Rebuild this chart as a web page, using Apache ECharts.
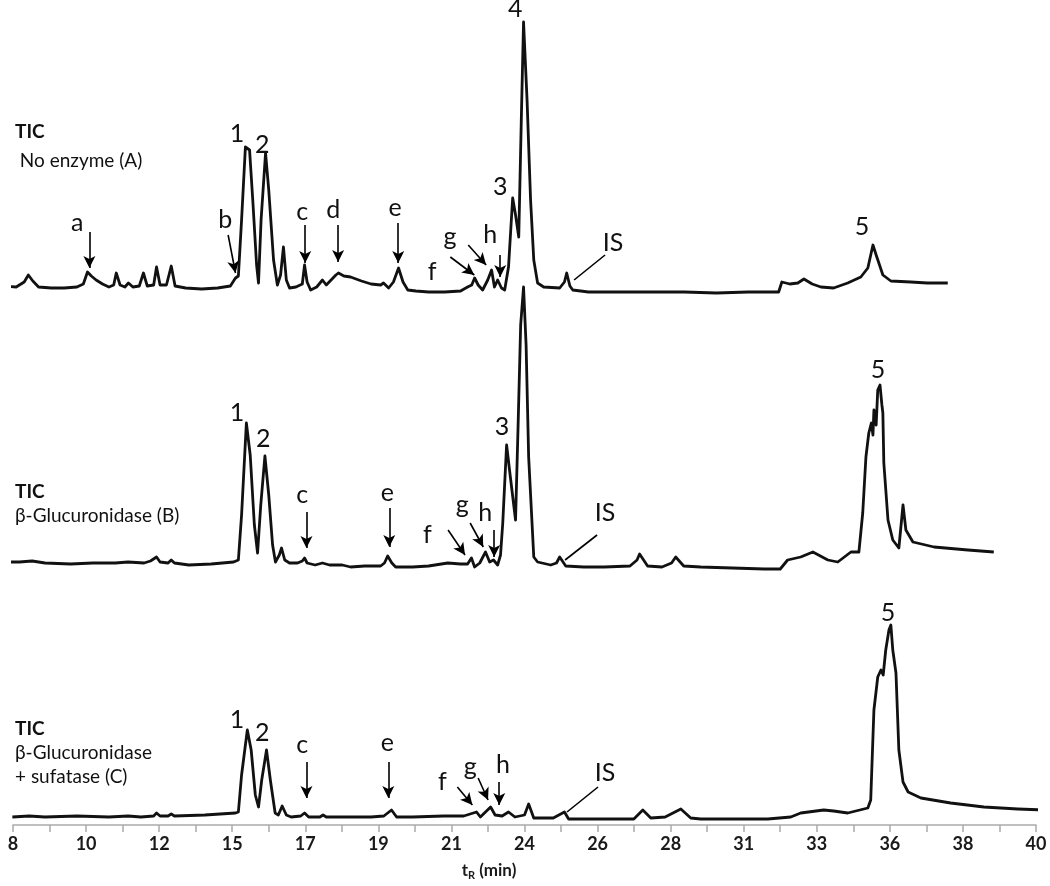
<!DOCTYPE html>
<html>
<head>
<meta charset="utf-8">
<script src="https://cdn.jsdelivr.net/npm/echarts@6/dist/echarts.min.js"></script>
<style>
	html, body { margin: 0; padding: 0; background: #fff; }
	#chart { width: 1050px; height: 886px; }
</style>
</head>
<body>
<div id="chart"></div>
<script>
// x tick labels as printed under the axis (evenly spaced from 8 to 40 min)
var xTickLabels = ['8', '10', '12', '15', '17', '19', '21', '24', '26', '28', '31', '33', '36', '38', '40'];

// TIC traces, [tR (min), relative abundance]
var traceA = [
	[7.67, 14], [8.1, 13], [8.35, 18], [8.48, 25], [8.62, 19], [8.8, 13], [9.2, 12], [9.6, 12], [10.0, 13], [10.2, 16],
	[10.33, 28], [10.45, 24], [10.6, 20], [10.8, 16], [11.0, 13], [11.15, 15], [11.23, 27], [11.35, 15], [11.5, 13], [11.61, 17],
	[11.75, 13], [11.95, 14], [12.08, 27], [12.2, 14], [12.4, 15], [12.49, 33], [12.6, 15], [12.8, 15], [12.95, 34], [13.07, 14],
	[13.4, 12], [13.9, 11], [14.4, 12], [14.8, 14], [14.96, 22], [15.05, 24], [15.15, 80], [15.27, 153], [15.4, 150], [15.5, 100],
	[15.62, 35], [15.68, 17], [15.76, 80], [15.9, 147], [16.0, 110], [16.15, 40], [16.27, 15], [16.37, 25], [16.46, 53], [16.55, 20],
	[16.65, 12], [16.85, 13], [17.05, 16], [17.12, 35], [17.2, 18], [17.31, 10], [17.5, 13], [17.68, 20], [17.8, 15], [17.95, 20],
	[18.1, 25], [18.18, 27], [18.35, 24], [18.56, 23], [18.9, 19], [19.2, 16], [19.5, 15], [19.59, 17], [19.75, 12], [19.9, 18],
	[20.06, 32], [20.2, 18], [20.35, 10], [20.6, 9], [21.0, 8], [21.5, 8], [22.0, 9], [22.22, 13], [22.35, 15], [22.44, 22],
	[22.55, 15], [22.69, 10], [22.85, 20], [22.97, 30], [23.06, 13], [23.16, 20], [23.28, 12], [23.38, 10], [23.5, 33], [23.63, 102],
	[23.72, 85], [23.82, 63], [23.9, 180], [23.97, 278], [24.08, 200], [24.19, 100], [24.29, 40], [24.41, 17], [24.6, 13], [25.1, 12],
	[25.25, 18], [25.32, 27], [25.42, 14], [25.51, 10], [26.0, 8], [27.0, 8], [28.0, 8], [29.0, 8], [30.0, 7], [31.0, 8],
	[31.95, 8], [32.05, 18], [32.3, 16], [32.55, 17], [32.74, 21], [33.0, 16], [33.27, 13], [33.67, 12], [34.11, 17], [34.52, 23],
	[34.74, 32], [34.9, 55], [35.0, 45], [35.21, 25], [35.46, 19], [36.08, 18], [36.6, 17], [37.24, 17]
];
var traceB = [
	[7.67, 13], [8.2, 13], [8.6, 14], [9.0, 12], [9.8, 11], [10.5, 12], [11.2, 12], [11.6, 13], [12.1, 12], [12.3, 14],
	[12.49, 18], [12.6, 13], [12.85, 12], [12.95, 15], [13.05, 12], [13.5, 10], [14.2, 11], [14.9, 13], [15.05, 15], [15.15, 60],
	[15.3, 152], [15.42, 120], [15.55, 50], [15.65, 22], [15.75, 70], [15.88, 119], [16.0, 80], [16.12, 30], [16.21, 13], [16.33, 20],
	[16.4, 27], [16.5, 15], [16.65, 12], [16.9, 12], [17.05, 14], [17.12, 17], [17.2, 12], [17.45, 10], [17.68, 12], [17.9, 10],
	[18.3, 10], [18.56, 8], [19.0, 9], [19.5, 9], [19.62, 12], [19.72, 19], [19.85, 12], [19.97, 8], [20.5, 8], [21.0, 9],
	[21.6, 12], [22.0, 11], [22.22, 11], [22.34, 17], [22.44, 8], [22.6, 12], [22.78, 23], [22.91, 13], [23.03, 15], [23.16, 10],
	[23.25, 20], [23.32, 52], [23.44, 130], [23.55, 100], [23.72, 55], [23.8, 150], [23.88, 250], [23.97, 288], [24.05, 230], [24.13, 118],
	[24.29, 18], [24.41, 13], [24.82, 10], [25.0, 12], [25.1, 18], [25.29, 9], [25.85, 8], [26.5, 8], [27.3, 9], [27.52, 15],
	[27.6, 21], [27.85, 9], [28.3, 8], [28.6, 12], [28.73, 18], [28.98, 9], [29.51, 8], [30.5, 7], [31.5, 6], [32.0, 6],
	[32.23, 15], [32.64, 18], [33.02, 23], [33.49, 15], [33.8, 13], [34.21, 23], [34.46, 23], [34.58, 62], [34.68, 118], [34.77, 142],
	[34.85, 152], [34.9, 140], [34.93, 165], [35.0, 150], [35.05, 185], [35.12, 190], [35.18, 170], [35.21, 162], [35.24, 112], [35.37, 55],
	[35.52, 35], [35.71, 27], [35.84, 70], [35.93, 45], [36.15, 33], [36.81, 28], [37.87, 25], [38.68, 23]
];
var traceC = [
	[7.98, 8], [8.5, 9], [9.0, 8], [10.0, 9], [11.0, 8], [11.6, 9], [12.0, 8], [12.4, 9], [12.49, 12], [12.6, 9],
	[12.85, 9], [12.95, 11], [13.05, 9], [14.0, 10], [14.96, 12], [15.05, 13], [15.15, 50], [15.33, 95], [15.45, 75], [15.58, 30],
	[15.68, 18], [15.78, 45], [15.93, 75], [16.05, 45], [16.2, 12], [16.3, 10], [16.42, 19], [16.55, 10], [16.7, 8], [17.0, 9],
	[17.12, 12], [17.25, 8], [17.6, 8], [17.7, 10], [17.8, 8], [18.56, 8], [19.2, 8], [19.6, 9], [19.84, 15], [20.0, 8],
	[20.5, 8], [21.47, 9], [22.1, 9], [22.5, 13], [22.62, 8], [22.94, 18], [23.08, 10], [23.3, 9], [23.5, 13], [23.7, 8],
	[24.0, 10], [24.13, 21], [24.29, 7], [24.9, 7], [25.25, 13], [25.38, 6], [27.42, 6], [27.7, 15], [27.95, 7], [28.4, 8],
	[28.89, 16], [29.2, 7], [29.51, 6], [31.61, 6], [32.33, 8], [32.64, 12], [33.36, 15], [33.67, 14], [34.11, 12], [34.74, 17],
	[34.83, 25], [34.93, 115], [35.05, 148], [35.15, 155], [35.22, 150], [35.3, 175], [35.4, 195], [35.46, 200], [35.52, 175], [35.62, 152],
	[35.71, 75], [35.84, 43], [36.0, 33], [36.4, 27], [37.33, 22], [38.37, 18], [39.43, 16], [40.25, 15]
];

// peak / metabolite labels: [text, tR, abundance]
var labelsA = [['1', 15.01, 166], ['2', 15.80, 155], ['3', 23.24, 113], ['4', 23.71, 291], ['5', 34.56, 73],
	['a', 10.01, 77], ['b', 14.64, 80], ['c', 17.05, 88], ['d', 18.02, 90], ['e', 19.95, 92],
	['f', 21.11, 28], ['g', 21.67, 63], ['h', 22.93, 65], ['IS', 26.77, 57]];
var labelsB = [['1', 15.01, 162], ['2', 15.83, 136], ['3', 23.30, 148], ['5', 35.06, 205],
	['c', 17.05, 80], ['e', 19.71, 82], ['f', 20.96, 40], ['g', 22.05, 70], ['h', 22.77, 62], ['IS', 26.52, 62]];
var labelsC = [['1', 15.01, 105], ['2', 15.80, 92], ['5', 35.37, 212],
	['c', 17.05, 80], ['e', 19.71, 82], ['f', 21.43, 43], ['g', 22.30, 58], ['h', 23.33, 60], ['IS', 26.52, 52]];

// arrows: [fromT, fromI, toT, toI]
var arrowsA = [[10.39, 68, 10.39, 32], [14.73, 65, 14.96, 27], [17.14, 75, 17.14, 37], [18.17, 75, 18.17, 38],
	[20.05, 77, 20.05, 37], [21.68, 43, 22.43, 25], [22.24, 55, 22.80, 35], [23.24, 45, 23.24, 23]];
var arrowsB = [[17.18, 63, 17.18, 27], [19.77, 67, 19.77, 28], [21.61, 45, 22.14, 20], [22.30, 52, 22.71, 28], [23.05, 45, 23.05, 18]];
var arrowsC = [[17.18, 63, 17.18, 27], [19.74, 63, 19.74, 27], [21.90, 38, 22.37, 20], [22.55, 47, 22.86, 25], [23.21, 43, 23.21, 20]];
// plain leader lines for IS
var isLineA = [26.52, 45, 25.55, 20];
var isLineB = [26.27, 40, 25.27, 15];
var isLineC = [26.30, 38, 25.33, 13];

var sampleNames = [['TIC', ' No enzyme (A)'], ['TIC', 'β-Glucuronidase (B)'], ['TIC', 'β-Glucuronidase', '+ sufatase (C)']];

var chart = echarts.init(document.getElementById('chart'));
var FONT = 'Lato, "Open Sans", sans-serif';

function makeSeries(idx, data, labels, arrows, isLine) {
	var lines = arrows.map(function (a) {
		return [{ coord: [a[0], a[1]], symbol: 'none' }, { coord: [a[2], a[3]], symbol: 'arrow' }];
	});
	lines.push([{ coord: [isLine[0], isLine[1]], symbol: 'none' }, { coord: [isLine[2], isLine[3]], symbol: 'none' }]);
	return {
		type: 'line',
		xAxisIndex: idx,
		yAxisIndex: idx,
		data: data,
		showSymbol: false,
		symbol: 'none',
		clip: false,
		animation: false,
		lineStyle: { color: '#111', width: 2.8, join: 'round' },
		markPoint: {
			silent: true,
			animation: false,
			symbol: 'circle',
			symbolSize: 1,
			itemStyle: { color: 'rgba(0,0,0,0)' },
			label: {
				show: true,
				position: 'inside',
				formatter: function (p) { return p.name; },
				color: '#111',
				fontSize: 25,
				fontFamily: FONT
			},
			data: labels.map(function (l) { return { name: l[0], coord: [l[1], l[2]] }; })
		},
		markLine: {
			silent: true,
			animation: false,
			symbolSize: [9, 12],
			label: { show: false },
			lineStyle: { color: '#000', width: 1.6, type: 'solid' },
			emphasis: { disabled: true },
			data: lines
		}
	};
}

var gridTops = [0, 275, 525];
var xAxes = [], yAxes = [], grids = [];
for (var i = 0; i < 3; i++) {
	grids.push({ left: 13, right: 14, top: gridTops[i], height: 300 });
	yAxes.push({ gridIndex: i, type: 'value', min: 0, max: 300, show: false });
	xAxes.push({
		gridIndex: i,
		type: 'value',
		min: 8,
		max: 40,
		interval: 8 / 7,
		show: i === 2,
		axisLine: { lineStyle: { color: '#aaa', width: 1.5 } },
		axisTick: { show: true, inside: false, length: 7, lineStyle: { color: '#aaa', width: 1.5 } },
		splitLine: { show: false },
		axisLabel: {
			margin: 10,
			color: '#1a1a1a',
			fontSize: 18,
			fontWeight: 'bold',
			fontFamily: FONT,
			showMinLabel: true,
			showMaxLabel: true,
			formatter: function (v) {
				var k = Math.round((v - 8) / (8 / 7));
				return k % 2 === 0 ? xTickLabels[k / 2] : '';
			}
		},
		name: '{t|t}{s|R}{t| (min)}',
		nameLocation: 'middle',
		nameGap: 36,
		nameTextStyle: {
			padding: [0, 71, 0, 0],
			rich: {
				t: { fontSize: 17, fontWeight: 'bold', color: '#1a1a1a', fontFamily: FONT },
				s: { fontSize: 11, fontWeight: 'bold', color: '#1a1a1a', fontFamily: FONT, verticalAlign: 'bottom', padding: [9, 0, 0, 0] }
			}
		}
	});
}

// left-hand sample captions: [left, first line centre, line step]
var textBlocks = [[15, 133, 29], [15, 493, 24], [15, 730, 24]];
var graphics = [];
sampleNames.forEach(function (lines, i) {
	lines.forEach(function (txt, j) {
		graphics.push({
			type: 'text',
			left: textBlocks[i][0],
			top: textBlocks[i][1] + j * textBlocks[i][2] - 11,
			style: {
				text: txt,
				fill: '#111',
				font: (j === 0 ? 'bold ' : '') + '19px ' + FONT
			}
		});
	});
});

var option = {
	backgroundColor: '#fff',
	animation: false,
	grid: grids,
	xAxis: xAxes,
	yAxis: yAxes,
	graphic: graphics,
	series: [
		makeSeries(0, traceA, labelsA, arrowsA, isLineA),
		makeSeries(1, traceB, labelsB, arrowsB, isLineB),
		makeSeries(2, traceC, labelsC, arrowsC, isLineC)
	]
};
chart.setOption(option);
</script>
</body>
</html>
